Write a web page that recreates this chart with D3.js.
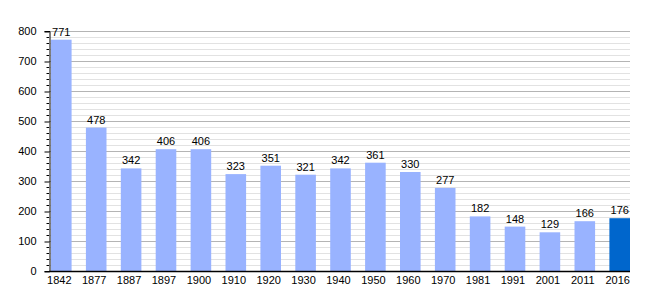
<!DOCTYPE html>
<html>
<head>
<meta charset="utf-8">
<script src="https://cdn.jsdelivr.net/npm/d3@7"></script>
<style>
  body { margin: 0; background: #fff; }
  text { font-family: "Liberation Sans", Arial, sans-serif; font-size: 11px; fill: #000; }
</style>
</head>
<body>
<div class="canva"></div>
<script>
const years = ["1842","1877","1887","1897","1900","1910","1920","1930","1940","1950","1960","1970","1981","1991","2001","2011","2016"];
const population = [771,478,342,406,406,323,351,321,342,361,330,277,182,148,129,166,176];
const yMajorTicks = [0,100,200,300,400,500,600,700,800];

const width = 660, height = 300;
const plotLeft = 49, plotRight = 630, plotTop = 31, plotBottom = 271;

const svg = d3.select(".canva").append("svg")
    .attr("width", width)
    .attr("height", height);

const x = d3.scaleBand().domain(years).range([51, plotRight]).paddingInner(0.41).paddingOuter(0).align(0);
const y = d3.scaleLinear().domain([0, 800]).range([plotBottom, plotTop]);

// minor grid every 20
const minor = d3.range(0, 801, 20).filter(v => v % 100 !== 0);
svg.selectAll(".minor").data(minor).enter().append("line")
    .attr("x1", plotLeft).attr("x2", plotRight)
    .attr("y1", d => Math.round(y(d)) + 0.5).attr("y2", d => Math.round(y(d)) + 0.5)
    .attr("stroke", "#e2e2e2");

svg.selectAll(".major").data(yMajorTicks.slice(1)).enter().append("line")
    .attr("x1", plotLeft).attr("x2", plotRight)
    .attr("y1", d => Math.round(y(d)) + 0.5).attr("y2", d => Math.round(y(d)) + 0.5)
    .attr("stroke", "#b4b4b4");

// bars
svg.selectAll("rect").data(population).enter().append("rect")
    .attr("x", (d, i) => x(years[i]))
    .attr("y", d => y(d))
    .attr("width", x.bandwidth())
    .attr("height", d => y(0) - y(d))
    .attr("fill", (d, i) => i === years.length - 1 ? "#0066cc" : "#99b3ff");

// value labels
svg.selectAll(".val").data(population).enter().append("text")
    .attr("x", (d, i) => x(years[i]) + x.bandwidth() / 2)
    .attr("y", d => y(d) - 4)
    .attr("text-anchor", "middle")
    .text(d => d);

// y axis
const yAxis = d3.axisLeft(y).tickValues(yMajorTicks).tickSize(5).tickPadding(8);
const ya = svg.append("g").attr("transform", `translate(${plotLeft + 0.5},0)`).call(yAxis);
ya.selectAll(".tick line").attr("y1", 0.5).attr("y2", 0.5);
ya.select(".domain").attr("stroke", "#000");
ya.selectAll("text").style("font-size", "11px").style("font-family", "Liberation Sans, Arial, sans-serif");

svg.selectAll(".mt").data(minor).enter().append("line")
    .attr("x1", plotLeft - 2.5).attr("x2", plotLeft)
    .attr("y1", d => Math.round(y(d)) + 0.5).attr("y2", d => Math.round(y(d)) + 0.5)
    .attr("stroke", "#000");

// x axis
svg.append("line")
    .attr("x1", plotLeft).attr("x2", plotRight)
    .attr("y1", plotBottom + 0.5).attr("y2", plotBottom + 0.5)
    .attr("stroke", "#000").attr("stroke-width", 1.5);

svg.selectAll(".xl").data(years).enter().append("text")
    .attr("x", d => x(d) + x.bandwidth() / 2 - 2)
    .attr("y", plotBottom + 13)
    .attr("text-anchor", "middle")
    .text(d => d);
</script>
</body>
</html>
